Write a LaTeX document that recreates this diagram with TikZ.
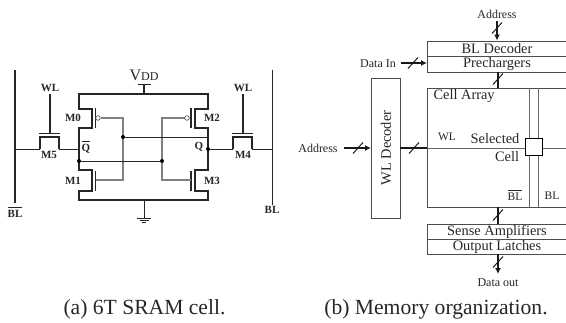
\documentclass[tikz,border=0pt]{standalone}
\usepackage{fontspec}
\setmainfont{Liberation Serif}
\usetikzlibrary{arrows.meta,calc}
\tikzset{
 wirea/.style={line width=1.5pt,black!85},
 wireb/.style={line width=1pt,black!85},
 gatew/.style={line width=1.2pt,black!50},
 thinl/.style={line width=1pt,black!60},
 blockb/.style={draw=black!70,line width=1pt,inner sep=0pt,fill=none,text=black!85,font=\fontsize{14.4}{14.4}\selectfont},
 lab/.style={inner sep=0pt,text=black!85,font=\fontsize{12}{12}\selectfont},
 blab/.style={inner sep=0pt,text=black!85,font=\fontsize{11}{11}\selectfont\bfseries},
 captext/.style={inner sep=0pt,text=black!85,font=\fontsize{21.6}{21.6}\selectfont},
 dotn/.style={circle,fill=black,inner sep=0pt,minimum size=4pt},
 bus/.style={line width=1.5pt,black!90},
 busarr/.style={line width=1.5pt,black!90,-{Latex[length=6pt,width=6pt]}},
}
\newcommand{\slashx}[1]{\draw[line width=1pt,black!90] ($(#1)+(-5,5.5)$) -- ($(#1)+(5,-5.5)$);}
\newcommand{\barred}[1]{\vbox{\hrule height 0.8pt\kern 1.6pt\hbox{#1}}}
\begin{document}
\begin{tikzpicture}[x=1pt,y=-1pt]
\useasboundingbox (0,0) rectangle (566,322);
\clip (0,0) rectangle (566,322);
% --- 6T cell
\coordinate (blbt) at (15,70); \coordinate (blbb) at (15,203);
\coordinate (blt) at (272,70); \coordinate (blb) at (272,205);
\draw[wirea] (blbt) -- (blbb);
\draw[wireb] (blt) -- (blb);
\node[blab,anchor=base] (blbar) at (15,217) {\barred{BL}};
\node[blab] (bltxt) at (272,210) {BL};
% rails
\coordinate (vt) at (144,94); \coordinate (vb) at (144,84);
\coordinate (gt) at (144,200); \coordinate (gb) at (144,218);
\draw[wirea,line join=miter] (92,128) -- (79,128) -- (79,170) -- (92,170) -- (92,191) -- (79,191) -- (79,200) -- (208,200) -- (208,191) -- (195,191) -- (195,170) -- (208,170) -- (208,128) -- (195,128) -- (195,109) -- (208,109) -- (208,94) -- (79,94) -- (79,109) -- (92,109) -- cycle;
\draw[wirea] (vt) -- (vb);
\draw[wireb] (138,84) -- (151,84);
\node[inner sep=0pt,text=black!85] (vdd) at (144,75) {\fontsize{16}{16}\selectfont V\fontsize{12}{12}\selectfont DD};
\draw[wireb] (gt) -- (gb);
\draw[wireb] (137,218) -- (151,218) (139.5,220) -- (148.5,220) (142,222) -- (146,222);
% gate bars
\draw[wirea] (95.5,108) -- (95.5,128) (95.5,171) -- (95.5,191) (191,108) -- (191,128) (191,171) -- (191,191);
% gate wiring
\draw[gatew] (100.5,118) -- (123,118) -- (123,180) -- (96,180);
\draw[gatew] (184.5,118) -- (162,118) -- (162,180) -- (191,180);
\node[circle,draw=black!70,line width=0.6pt,fill=white,inner sep=0pt,minimum size=4.6pt] (b0) at (98,118) {};
\node[circle,draw=black!70,line width=0.6pt,fill=white,inner sep=0pt,minimum size=4.6pt] (b2) at (187,118) {};
\node[dotn] (d1) at (123,137) {};
\node[dotn] (d2) at (79,161) {};
\node[dotn] (d3) at (162,161) {};
\node[dotn] (d4) at (208,149) {};
\coordinate (r1) at (208,137); \coordinate (q0) at (79,149);
\draw[wireb] (d1) -- (r1);
\draw[wireb] (d2) -- (d3);
% access transistors
\draw[wireb] (15,149) -- (40,149) (59,149) -- (q0);
\draw[wirea] (40,149) -- (40,137) -- (59,137) -- (59,149);
\draw[wireb] (39,133) -- (60,133);
\draw[wirea] (50,94) -- (50,133);
\draw[wireb] (d4) -- (233,149) (252,149) -- (272,149);
\draw[wirea] (233,149) -- (233,137) -- (252,137) -- (252,149);
\draw[wireb] (232,133) -- (253,133);
\draw[wirea] (243,94) -- (243,133);
\node[blab] (wl1) at (50,88) {WL};
\node[blab] (wl2) at (243,88) {WL};
\node[blab] (m5) at (49,155) {M5};
\node[blab] (m4) at (243,155) {M4};
\node[blab] (m0) at (73,118) {M0};
\node[blab] (m1) at (73,181) {M1};
\node[blab] (m2) at (212,118) {M2};
\node[blab] (m3) at (212,181) {M3};
\node[blab,anchor=base] (qb) at (86,151) {\barred{Q}};
\node[blab] (q) at (199,147) {Q};
% --- memory organisation
\node[blockb,minimum width=146pt,minimum height=15.5pt,anchor=north west] (bld) at (427,40.5) {};
\node[blockb,minimum width=146pt,minimum height=15.5pt,anchor=north west] (pre) at (427,56) {};
\node[blockb,minimum width=146pt,minimum height=119pt,anchor=north west] (arr) at (427,88) {};
\node[blockb,minimum width=146pt,minimum height=15pt,anchor=north west] (sa) at (427,224) {};
\node[blockb,minimum width=146pt,minimum height=15pt,anchor=north west] (ol) at (427,239) {};
\node[blockb,minimum width=29pt,minimum height=140pt,anchor=north west] (wld) at (371,78) {};
\node[blockb,draw=none] (t1) at (497,49) {BL Decoder};
\node[blockb,draw=none] (t2) at (497,64) {Prechargers};
\node[blockb,draw=none] (t3) at (497,232) {Sense Amplifiers};
\node[blockb,draw=none] (t4) at (497,247) {Output Latches};
\node[blockb,draw=none,rotate=90] (t5) at (386,148) {WL Decoder};
\node[blockb,draw=none,anchor=west] (t6) at (433,96) {Cell Array};
\node[lab,font=\fontsize{11.5}{11.5}\selectfont] (t7) at (447,137) {WL};
\node[blockb,draw=none] (t8) at (495,139) {Selected};
\node[blockb,draw=none] (t9) at (507,157) {Cell};
\node[lab,font=\fontsize{11.5}{11.5}\selectfont,anchor=base] (t10) at (515,200) {\barred{BL}};
\node[lab,font=\fontsize{11.5}{11.5}\selectfont] (t11) at (552,196) {BL};
% bit and word lines
\coordinate (v1t) at (529.5,88); \coordinate (v1b) at (529.5,207);
\coordinate (v2t) at (538,88); \coordinate (v2b) at (538,207);
\coordinate (wlr) at (566,148);
\draw[thinl] (v1t) -- (v1b) (v2t) -- (v2b);
\draw[thinl] (427,148) -- (wlr);
\node[draw=black,line width=1.4pt,fill=white,minimum size=17pt,inner sep=0pt] (sel) at (534,147) {};
% external labels
\node[lab] (a1) at (497,14) {Address};
\node[lab] (di) at (378,64) {Data In};
\node[lab] (a2) at (318,148) {Address};
\node[lab] (dout) at (498,283) {Data out};
% buses
\coordinate (a1s) at (497,21); \coordinate (bldt) at (497,40.5);
\draw[busarr] (a1s) -- (bldt); \slashx{497,28}
\coordinate (dis) at (401,63); \coordinate (die) at (427,63);
\draw[busarr] (dis) -- (die); \slashx{413,63}
\coordinate (a2s) at (344,148); \coordinate (a2e) at (371,148);
\draw[busarr] (a2s) -- (a2e); \slashx{358,148}
\coordinate (wo) at (400,148); \coordinate (wi) at (427,148);
\draw[bus] (wo) -- (wi); \slashx{414,148}
\coordinate (p1) at (498,72); \coordinate (p2) at (498,88);
\draw[bus] (p1) -- (p2); \slashx{498,79}
\coordinate (s1) at (498,207); \coordinate (s2) at (498,224);
\draw[bus] (s1) -- (s2); \slashx{498,215}
\coordinate (o1) at (498,254); \coordinate (o2) at (498,274);
\draw[busarr] (o1) -- (o2); \slashx{498,262}
% captions
\node[captext] (c1) at (144.5,309) {(a) 6T SRAM cell.};
\node[captext] (c2) at (436,309) {(b) Memory organization.};
\end{tikzpicture}
\end{document}
